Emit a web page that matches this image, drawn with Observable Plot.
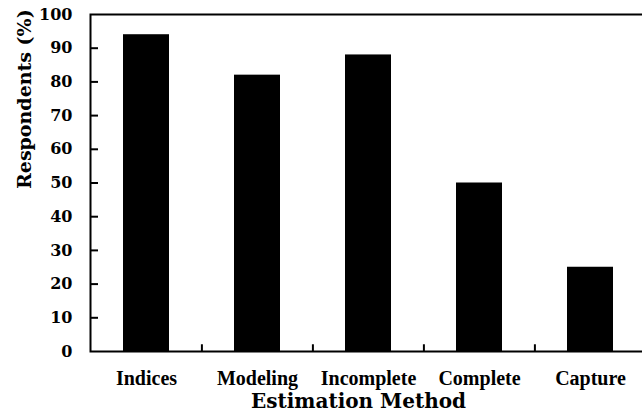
<!DOCTYPE html>
<html>
<head>
<meta charset="utf-8">
<script src="https://cdn.jsdelivr.net/npm/d3@7"></script>
<script src="https://cdn.jsdelivr.net/npm/@observablehq/plot@0.6"></script>
<style>
  html, body { margin: 0; padding: 0; background: #fff; overflow: hidden; }
  #chart { width: 642px; height: 418px; overflow: hidden; }
  #chart svg { max-width: none !important; }
</style>
</head>
<body>
<div id="chart"></div>
<script>
const categories = ["Indices", "Modeling", "Incomplete", "Complete", "Capture"];
const respondents = [94, 82, 88, 50, 25];
const yTicks = [0, 10, 20, 30, 40, 50, 60, 70, 80, 90, 100];
const yTitle = "Respondents (%)";
const xTitle = "Estimation Method";

const data = categories.map((c, i) => ({method: c, value: respondents[i]}));

const serifBold = {fontFamily: "DejaVu Serif", fontWeight: "bold"};
const timesBold = {fontFamily: "Liberation Serif", fontWeight: "bold"};

const chart = Plot.plot({
  width: 650,
  height: 418,
  marginLeft: 90,
  marginRight: 4,
  marginTop: 14,
  marginBottom: 67,
  style: {background: "white", color: "black", overflow: "hidden", maxWidth: "none"},
  x: {domain: categories, paddingInner: 0.587, paddingOuter: 0.294, label: null, axis: null},
  y: {domain: [0, 100], label: null, axis: null},
  marks: [
    Plot.barY(data, {x: "method", y: "value", fill: "black"}),
    Plot.frame({stroke: "black", strokeWidth: 2}),
    Plot.axisY(yTicks.slice(1, -1), {tickSize: -8, strokeWidth: 2, tickFormat: () => null, label: null}),
    Plot.axisY(yTicks, {tickSize: 0, tickPadding: 18, fontSize: 16, ...serifBold, label: null}),
    Plot.axisX(categories, {tickSize: 0, tickPadding: 19, fontSize: 20, ...timesBold, label: null}),
    Plot.ruleX(categories.slice(1), {x: d => d, y1: 0, y2: 2, dx: -55.6, strokeWidth: 2, stroke: "black"}),
    Plot.text([yTitle], {text: d => d, frameAnchor: "left", rotate: -90, dx: -66, dy: 6, fontSize: 19, ...serifBold, fill: "black"}),
    Plot.text([xTitle], {text: d => d, frameAnchor: "bottom", lineAnchor: "bottom", dx: -10, dy: 56, fontSize: 20, ...serifBold, fill: "black"})
  ]
});
chart.style.maxWidth = "none";
document.getElementById("chart").appendChild(chart);
</script>
</body>
</html>
